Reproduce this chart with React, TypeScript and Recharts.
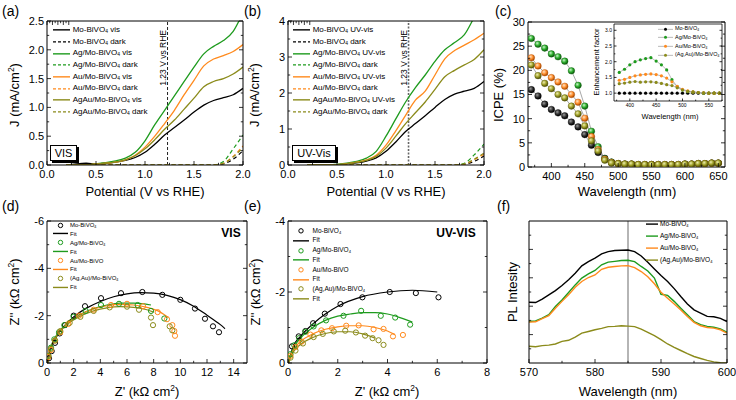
import React from "react";
import {
  LineChart,
  Line,
  ComposedChart,
  Scatter,
  XAxis,
  YAxis,
  ReferenceLine,
  Legend,
} from "recharts";

const FONT = '"Liberation Sans", Arial, Helvetica, sans-serif';
const BLACK = "#000000";
const GREEN = "#1e9b1e";
const ORANGE = "#ff8a1d";
const OLIVE = "#8b8b1b";
const GRAY = "#a8a8a8";
const COLORS = [BLACK, GREEN, ORANGE, OLIVE];

// ---- (a) / (b) linear sweep voltammetry
const potential = [0.2, 0.3, 0.4, 0.5, 0.6, 0.7, 0.8, 0.9, 1.0, 1.1, 1.2, 1.3, 1.4, 1.5, 1.6, 1.7, 1.8, 1.9, 2.0];
const moVis = [0, 0.02, 0.03, 0.02, 0.03, 0.05, 0.08, 0.13, 0.22, 0.36, 0.52, 0.65, 0.78, 0.92, 1.04, 1.12, 1.17, 1.22, 1.33];
const agVis = [0, 0, 0, 0.02, 0.04, 0.07, 0.12, 0.22, 0.42, 0.7, 0.95, 1.2, 1.45, 1.7, 1.93, 2.06, 2.16, 2.32, 2.65];
const auVis = [0, 0, 0, 0.02, 0.03, 0.05, 0.09, 0.17, 0.31, 0.5, 0.72, 0.95, 1.22, 1.47, 1.72, 1.84, 1.9, 1.97, 2.09];
const agauVis = [0, 0, 0, 0.02, 0.03, 0.05, 0.09, 0.16, 0.28, 0.44, 0.62, 0.78, 0.97, 1.16, 1.36, 1.45, 1.5, 1.58, 1.7];
const moDarkA = [0, 0, 0, 0, 0, 0, 0, 0, 0, 0, 0, 0, 0, 0, 0, 0, 0.02, 0.1, 0.25];
const agDarkA = [0, 0, 0, 0, 0, 0, 0, 0, 0, 0, 0, 0, 0, 0, 0, 0, 0.06, 0.28, 0.52];
const auDarkA = [0, 0, 0, 0, 0, 0, 0, 0, 0, 0, 0, 0, 0, 0, 0, 0, 0.03, 0.15, 0.33];
const agauDarkA = [0, 0, 0, 0, 0, 0, 0, 0, 0, 0, 0, 0, 0, 0, 0, 0, 0.03, 0.14, 0.3];

const moUV = [0, 0, 0, 0.01, 0.03, 0.06, 0.11, 0.2, 0.38, 0.64, 0.93, 1.15, 1.37, 1.6, 1.82, 1.97, 2.05, 2.13, 2.32];
const agUV = [0, 0, 0, 0.02, 0.05, 0.1, 0.19, 0.38, 0.8, 1.28, 1.75, 2.15, 2.5, 2.88, 3.2, 3.4, 3.62, 4.1, 4.6];
const auUV = [0, 0, 0, 0.01, 0.04, 0.08, 0.14, 0.27, 0.55, 0.95, 1.38, 1.8, 2.05, 2.5, 2.95, 3.18, 3.33, 3.48, 3.66];
const agauUV = [0, 0, 0, 0.01, 0.03, 0.07, 0.13, 0.24, 0.47, 0.8, 1.15, 1.45, 1.75, 2.1, 2.45, 2.63, 2.78, 2.93, 3.2];
const moDarkB = [0, 0, 0, 0, 0, 0, 0, 0, 0, 0, 0, 0, 0, 0, 0, 0, 0.02, 0.1, 0.25];
const agDarkB = [0, 0, 0, 0, 0, 0, 0, 0, 0, 0, 0, 0, 0, 0, 0, 0, 0.05, 0.28, 0.58];
const auDarkB = [0, 0, 0, 0, 0, 0, 0, 0, 0, 0, 0, 0, 0, 0, 0, 0, 0.02, 0.15, 0.3];
const agauDarkB = [0, 0, 0, 0, 0, 0, 0, 0, 0, 0, 0, 0, 0, 0, 0, 0, 0.03, 0.16, 0.33];

// ---- (c) ICPE + enhancement factor inset
const wavelengthC = [370, 380, 390, 400, 410, 420, 430, 440, 450, 460, 470, 480, 490, 500, 510, 520, 530, 540, 550, 560, 570, 580, 590, 600, 610, 620, 630, 640, 650];
const icpeMo = [16.0, 14.7, 13.0, 11.9, 11.2, 10.6, 9.3, 8.3, 6.7, 4.5, 3.0, 1.8, 1.0, 0.7, 0.6, 0.6, 0.5, 0.5, 0.5, 0.5, 0.5, 0.5, 0.5, 0.6, 0.6, 0.7, 0.7, 0.8, 0.8];
const icpeAg = [26.6, 25.4, 24.6, 23.4, 22.8, 21.9, 19.9, 16.9, 12.6, 7.4, 4.2, 1.7, 1.0, 0.7, 0.6, 0.6, 0.5, 0.5, 0.5, 0.5, 0.5, 0.5, 0.5, 0.6, 0.6, 0.7, 0.7, 0.8, 0.8];
const icpeAu = [22.6, 20.9, 19.5, 18.5, 17.6, 16.7, 15.0, 13.4, 10.1, 6.3, 3.6, 1.6, 0.9, 0.7, 0.6, 0.6, 0.5, 0.5, 0.5, 0.5, 0.5, 0.5, 0.5, 0.6, 0.6, 0.7, 0.7, 0.8, 0.8];
const icpeAgAu = [21.1, 18.9, 17.3, 16.2, 15.0, 14.3, 12.6, 11.0, 8.5, 5.4, 3.3, 1.4, 0.8, 0.7, 0.6, 0.6, 0.5, 0.5, 0.5, 0.5, 0.5, 0.5, 0.5, 0.6, 0.6, 0.7, 0.7, 0.8, 0.8];

const wavelengthInset = [380, 390, 400, 410, 420, 430, 440, 450, 460, 470, 480, 490, 500, 510, 520, 530, 540, 550, 560, 570];
const efMo = [1, 1, 1, 1, 1, 1, 1, 1, 1, 1, 1, 1, 1, 1, 1, 1, 1, 1, 1, 1];
const efAg = [1.66, 1.76, 1.9, 2.0, 2.06, 2.1, 2.13, 2.02, 1.9, 1.74, 1.43, 1.21, 1.1, 1.05, 1.03, 1.02, 1.0, 1.0, 1.0, 1.0];
const efAu = [1.41, 1.44, 1.5, 1.55, 1.58, 1.6, 1.61, 1.59, 1.55, 1.48, 1.36, 1.22, 1.12, 1.07, 1.04, 1.02, 1.01, 1.0, 1.0, 1.0];
const efAgAu = [1.3, 1.32, 1.35, 1.37, 1.35, 1.36, 1.36, 1.34, 1.31, 1.27, 1.24, 1.17, 1.1, 1.06, 1.04, 1.02, 1.01, 1.0, 1.0, 1.0];

// ---- (d) / (e) Nyquist plots [Z', Z'']
const moCircD = [[0.15, -0.2], [0.35, -0.5], [0.6, -0.85], [0.95, -1.25], [1.35, -1.6], [2.0, -2.0], [2.85, -2.4], [4.05, -2.74], [5.55, -2.95], [7.15, -3.0], [8.65, -2.88], [10.0, -2.67], [11.1, -2.3], [11.85, -1.87], [12.45, -1.55], [12.9, -1.3]];
const moFitD = [[0.05, 0], [0.15, -0.35], [0.35, -0.7], [0.7, -1.1], [1.2, -1.5], [2, -1.95], [3, -2.33], [4, -2.6], [5, -2.8], [6, -2.92], [7, -2.97], [8, -2.95], [9, -2.86], [10, -2.68], [11, -2.4], [12, -2.02], [13, -1.62], [13.35, -1.45]];
const agCircD = [[0.1, -0.3], [0.3, -0.65], [0.55, -1.0], [0.9, -1.3], [1.3, -1.6], [2.0, -1.95], [2.9, -2.2], [4.05, -2.45], [5.4, -2.5], [6.8, -2.45], [7.8, -2.2], [8.8, -1.88]];
const agFitD = [[0.05, 0], [0.15, -0.4], [0.4, -0.85], [0.8, -1.25], [1.5, -1.68], [2.5, -2.05], [3.5, -2.3], [4.5, -2.45], [5.5, -2.53], [6.5, -2.53], [7.3, -2.5], [7.8, -2.45]];
const auCircD = [[0.1, -0.25], [0.3, -0.55], [0.6, -0.95], [1.0, -1.3], [1.6, -1.65], [2.4, -2.0], [3.5, -2.25], [4.8, -2.45], [6.0, -2.5], [7.2, -2.4], [8.3, -2.15], [9.0, -1.85], [9.4, -1.6], [9.55, -1.35], [9.6, -1.15]];
const auFitD = [[0.05, 0], [0.15, -0.35], [0.4, -0.8], [0.8, -1.2], [1.5, -1.65], [2.5, -2.05], [3.5, -2.28], [4.5, -2.42], [5.5, -2.48], [6.5, -2.45], [7.5, -2.35], [8.5, -2.15], [9.1, -1.92]];
const agauCircD = [[0.1, -0.3], [0.3, -0.6], [0.6, -0.95], [1.0, -1.35], [1.7, -1.7], [2.5, -1.95], [3.5, -2.2], [4.7, -2.35], [6.0, -2.38], [6.9, -2.25], [7.8, -1.92], [7.95, -1.6], [9.2, -1.55], [9.4, -1.38]];
const agauFitD = [[0.05, 0], [0.15, -0.38], [0.4, -0.8], [0.8, -1.2], [1.5, -1.62], [2.5, -1.98], [3.5, -2.2], [4.5, -2.33], [5.5, -2.38], [6.5, -2.35], [7.5, -2.25], [8.0, -2.15]];

const moCircE = [[0.16, -0.47], [0.43, -0.75], [0.7, -0.9], [1.01, -1.12], [1.48, -1.39], [2.11, -1.66], [2.99, -1.85], [4.09, -2.0], [5.14, -1.97], [6.05, -1.85]];
const moFitE = [[0.02, 0], [0.2, -0.45], [0.5, -0.75], [1, -1.1], [1.5, -1.38], [2, -1.6], [3, -1.87], [4, -2.0], [5, -2.05], [6, -2.0]];
const agCircE = [[0.1, -0.25], [0.25, -0.5], [0.45, -0.7], [0.7, -0.88], [1.03, -1.03], [1.53, -1.2], [2.23, -1.33], [2.94, -1.47], [3.73, -1.33], [4.31, -1.28], [4.91, -1.08]];
const agFitE = [[0.02, 0], [0.2, -0.4], [0.5, -0.7], [1, -1.0], [1.5, -1.2], [2, -1.32], [2.5, -1.38], [3, -1.42], [3.5, -1.42], [4, -1.38], [4.5, -1.28], [5, -1.15]];
const auCircE = [[0.1, -0.2], [0.3, -0.45], [0.55, -0.6], [0.9, -0.8], [1.34, -0.92], [1.77, -0.98], [2.34, -1.05], [2.84, -1.06], [3.44, -0.95], [3.84, -0.96], [4.22, -0.75], [4.62, -0.79]];
const auFitE = [[0.02, 0], [0.2, -0.35], [0.5, -0.6], [1, -0.82], [1.5, -0.95], [2, -1.02], [2.5, -1.05], [3, -1.05], [3.5, -1.0], [4, -0.9], [4.3, -0.8]];
const agauCircE = [[0.1, -0.15], [0.3, -0.35], [0.6, -0.55], [1.03, -0.73], [1.4, -0.82], [1.84, -0.89], [2.3, -0.91], [2.73, -0.86], [3.1, -0.77], [3.4, -0.7], [3.64, -0.64], [3.84, -0.51]];
const agauFitE = [[0.02, 0], [0.2, -0.3], [0.5, -0.52], [1, -0.72], [1.5, -0.83], [2, -0.88], [2.5, -0.88], [3, -0.82], [3.5, -0.7]];

// ---- (f) photoluminescence
const plWave = [570, 571, 572, 573, 574, 575, 576, 577, 578, 579, 580, 581, 582, 583, 584, 585, 586, 587, 588, 589, 590, 591, 592, 593, 594, 595, 596, 597, 598, 599, 600];
const plMo = [2.14, 2.13, 2.25, 2.4, 2.55, 2.73, 2.93, 3.16, 3.42, 3.57, 3.69, 3.84, 3.92, 3.96, 3.97, 3.98, 3.92, 3.77, 3.55, 3.31, 3.08, 2.87, 2.62, 2.34, 2.08, 1.87, 1.76, 1.64, 1.63, 1.57, 1.46];
const plAg = [1.46, 1.48, 1.58, 1.7, 1.99, 2.22, 2.48, 2.75, 2.99, 3.14, 3.26, 3.46, 3.55, 3.58, 3.61, 3.62, 3.57, 3.4, 3.24, 2.99, 2.42, 2.38, 2.17, 1.93, 1.7, 1.46, 1.35, 1.29, 1.26, 1.2, 1.08];
const plAu = [1.44, 1.45, 1.56, 1.67, 1.93, 2.17, 2.4, 2.67, 2.87, 3.01, 3.1, 3.3, 3.37, 3.4, 3.42, 3.43, 3.36, 3.22, 3.04, 2.79, 2.49, 2.28, 2.08, 1.87, 1.64, 1.43, 1.31, 1.25, 1.23, 1.17, 1.05];
const plAgAu = [0.59, 0.57, 0.61, 0.63, 0.67, 0.76, 0.8, 0.91, 1.05, 1.11, 1.17, 1.22, 1.28, 1.29, 1.31, 1.3, 1.28, 1.19, 1.08, 0.96, 0.82, 0.67, 0.55, 0.44, 0.33, 0.23, 0.16, 0.09, 0.04, 0.01, 0.0];

const namesLSV = ["Mo-BiVO", "Ag/Mo-BiVO", "Au/Mo-BiVO", "AgAu/Mo-BiVO"];
const namesOther = ["Mo-BiVO", "Ag/Mo-BiVO", "Au/Mo-BiVO", "(Ag,Au)/Mo-BiVO"];

const tableA = potential.map((v, i) => ({
  v, mo: moVis[i], ag: agVis[i], au: auVis[i], agau: agauVis[i],
  moD: moDarkA[i], agD: agDarkA[i], auD: auDarkA[i], agauD: agauDarkA[i],
}));
const tableB = potential.map((v, i) => ({
  v, mo: moUV[i], ag: agUV[i], au: auUV[i], agau: agauUV[i],
  moD: moDarkB[i], agD: agDarkB[i], auD: auDarkB[i], agauD: agauDarkB[i],
}));
const tableC = wavelengthC.map((w, i) => ({ w, mo: icpeMo[i], ag: icpeAg[i], au: icpeAu[i], agau: icpeAgAu[i] }));
const tableInset = wavelengthInset.map((w, i) => ({ w, mo: efMo[i], ag: efAg[i], au: efAu[i], agau: efAgAu[i] }));
const tablePL = plWave.map((w, i) => ({ w, mo: plMo[i], ag: plAg[i], au: plAu[i], agau: plAgAu[i] }));
const pts = (a: number[][]) => a.map(([x, y]) => ({ x, y }));

const KEYS = ["mo", "ag", "au", "agau"];
const nyqD = [
  { circ: moCircD, fit: moFitD },
  { circ: agCircD, fit: agFitD },
  { circ: auCircD, fit: auFitD },
  { circ: agauCircD, fit: agauFitD },
];
const nyqE = [
  { circ: moCircE, fit: moFitE },
  { circ: agCircE, fit: agFitE },
  { circ: auCircE, fit: auFitE },
  { circ: agauCircE, fit: agauFitE },
];

const Sub = ({ c }: { c: string }) => (
  <sub style={{ fontSize: "0.62em", verticalAlign: "-0.3em", lineHeight: 0 }}>{c}</sub>
);
const Sup = ({ c }: { c: string }) => (
  <sup style={{ fontSize: "0.65em", verticalAlign: "0.55em", lineHeight: 0 }}>{c}</sup>
);
const bv = (name: string, suffix = "", sub = true) => (
  <>
    {name}
    {sub && <Sub c="4" />}
    {suffix}
  </>
);

type Side = "bottom" | "left" | "top" | "right";
const near = (a: number, b: number) => Math.abs(a - b) < 1e-6;

// draws inward Origin-style ticks (major/minor) and the labels of the majors
function tickFn(side: Side, majors: number[], fmt: ((v: number) => string) | null, fs = 11, len = 4, gap = 3) {
  return (p: any) => {
    const x = Number(p.x);
    const y = Number(p.y);
    const v = p.payload.value as number;
    const major = majors.some((m) => near(m, v));
    const l = major ? len : len * 0.55;
    let x2 = x;
    let y2 = y;
    if (side === "bottom") y2 = y - l;
    if (side === "top") y2 = y + l;
    if (side === "left") x2 = x + l;
    if (side === "right") x2 = x - l;
    return (
      <g>
        <line x1={x} y1={y} x2={x2} y2={y2} stroke="#000" strokeWidth={0.8} />
        {major && fmt && side === "bottom" && (
          <text x={x} y={y + gap + fs * 0.72} textAnchor="middle" fontSize={fs} fontFamily={FONT} fill="#000">
            {fmt(v)}
          </text>
        )}
        {major && fmt && side === "left" && (
          <text x={x - gap} y={y + fs * 0.36} textAnchor="end" fontSize={fs} fontFamily={FONT} fill="#000">
            {fmt(v)}
          </text>
        )}
      </g>
    );
  };
}

type FrameOpts = {
  xKey: string;
  yKey?: string;
  xDomain: [number, number];
  xTicks: number[];
  xMajor: number[];
  xFmt: ((v: number) => string) | null;
  yDomain: [number, number];
  yTicks: number[];
  yMajor: number[];
  yFmt: ((v: number) => string) | null;
  yWidth: number;
  xHeight: number;
  reversed?: boolean;
  fs?: number;
  len?: number;
  xGap?: number;
  yGap?: number;
  sw?: number;
};

function frame(o: FrameOpts) {
  const fs = o.fs ?? 11;
  const len = o.len ?? 4;
  const line = { stroke: "#000", strokeWidth: o.sw ?? 1 };
  const common = { type: "number" as const, allowDataOverflow: true, interval: 0 as const, tickSize: 0, tickMargin: 0, tickLine: false, axisLine: line };
  return [
    <XAxis key="xb" {...common} dataKey={o.xKey} domain={o.xDomain} ticks={o.xTicks} height={o.xHeight}
      tick={tickFn("bottom", o.xMajor, o.xFmt, fs, len, o.xGap ?? 5)} />,
    <XAxis key="xt" {...common} xAxisId="t" orientation="top" domain={o.xDomain} ticks={o.xTicks} height={1}
      tick={tickFn("top", o.xMajor, null, fs, len)} />,
    <YAxis key="yl" {...common} dataKey={o.yKey} domain={o.yDomain} ticks={o.yTicks} width={o.yWidth} reversed={o.reversed}
      tick={tickFn("left", o.yMajor, o.yFmt, fs, len, o.yGap ?? 3)} />,
    <YAxis key="yr" {...common} yAxisId="r" orientation="right" domain={o.yDomain} ticks={o.yTicks} width={1} reversed={o.reversed}
      tick={tickFn("right", o.yMajor, null, fs, len)} />,
  ];
}

type Row = { text: React.ReactNode; color: string; kind: "line" | "dash" | "open" | "linedot" };

function LegendBox({ rows, fs, rowH, iconW, gap }: { rows: Row[]; fs: number; rowH: number; iconW: number; gap: number }) {
  return (
    <div style={{ fontFamily: FONT, fontSize: fs, color: "#000" }}>
      {rows.map((r, i) => (
        <div key={i} style={{ display: "flex", alignItems: "center", height: rowH, whiteSpace: "nowrap", lineHeight: 1 }}>
          <svg width={iconW} height={rowH} style={{ display: "block", flex: "none" }}>
            {r.kind !== "open" && (
              <line x1={0} x2={iconW} y1={rowH / 2} y2={rowH / 2}
                stroke={r.kind === "linedot" ? GRAY : r.color}
                strokeWidth={r.kind === "linedot" ? 0.8 : 1.4}
                strokeDasharray={r.kind === "dash" ? "3 2" : undefined} />
            )}
            {r.kind === "open" && <circle cx={iconW / 2} cy={rowH / 2} r={2.2} fill="none" stroke={r.color} strokeWidth={1} />}
            {r.kind === "linedot" && <circle cx={iconW / 2} cy={rowH / 2} r={1.5} fill={r.color} />}
          </svg>
          <span style={{ marginLeft: gap }}>{r.text}</span>
        </div>
      ))}
    </div>
  );
}

function legendAt(left: number, top: number, box: React.ReactNode) {
  return (
    <Legend layout="vertical" align="center" verticalAlign="middle" content={() => box}
      wrapperStyle={{ left, top, width: 160, height: "auto" }} />
  );
}

const lsvRows = (suffix: string): Row[] =>
  namesLSV.flatMap((n, i) => [
    { text: bv(n, " " + suffix), color: COLORS[i], kind: "line" as const },
    { text: bv(n, " dark"), color: COLORS[i], kind: "dash" as const },
  ]);

const nyqRows: Row[] = namesOther.flatMap((n, i) => [
  { text: bv(n, "", i !== 2), color: COLORS[i], kind: "open" as const },
  { text: "Fit", color: COLORS[i], kind: "line" as const },
]);

const dotRows: Row[] = namesOther.map((n, i) => ({ text: bv(n), color: COLORS[i], kind: "linedot" as const }));
const plRows: Row[] = namesOther.map((n, i) => ({ text: bv(n), color: COLORS[i], kind: "line" as const }));

function VText(props: { viewBox?: any; text: string; dx: number; top: number; fs: number }) {
  const vb = props.viewBox || { x: 0, y: 0 };
  const x = vb.x + props.dx;
  const y = vb.y + props.top;
  return (
    <text x={x} y={y} transform={`rotate(-90 ${x} ${y})`} textAnchor="end" fontSize={props.fs} fontFamily={FONT} fill="#000">
      {props.text}
    </text>
  );
}

const f1 = (v: number) => v.toFixed(1);
const f0 = (v: number) => String(v);

function LsvPanel({ data, width, yMax, yTicks, yMajor, yFmt, yWidth, right, rows, refStyle, legendLeft }: any) {
  return (
    <LineChart width={width} height={200} data={data} margin={{ top: 20, right, bottom: 0, left: 0 }}>
      {frame({
        xKey: "v", xDomain: [0, 2], xTicks: [0, 0.25, 0.5, 0.75, 1, 1.25, 1.5, 1.75, 2], xMajor: [0, 0.5, 1, 1.5, 2], xFmt: f1,
        yDomain: [0, yMax], yTicks, yMajor, yFmt, yWidth, xHeight: 35,
      })}
      <ReferenceLine x={1.23} {...refStyle}
        label={(p: any) => <VText viewBox={p.viewBox} text="1.23 V vs RHE" dx={-2} top={9} fs={8.5} />} />
      {KEYS.map((k, i) => (
        <Line key={k + "D"} dataKey={k + "D"} type="monotone" stroke={COLORS[i]} strokeWidth={1.2} strokeDasharray="4 3" dot={false} isAnimationActive={false} />
      ))}
      {KEYS.map((k, i) => (
        <Line key={k} dataKey={k} type="monotone" stroke={COLORS[i]} strokeWidth={1.3} dot={false} isAnimationActive={false} />
      ))}
      {legendAt(legendLeft, 24.2, <LegendBox rows={rows} fs={8} rowH={11.7} iconW={17.5} gap={2.5} />)}
    </LineChart>
  );
}

const BALLS = [
  { id: "k", c: "#333333", d: "#000000", h: "#9a9a9a" },
  { id: "g", c: "#2fb02f", d: "#0d5e0d", h: "#c8f5c8" },
  { id: "o", c: "#ff9030", d: "#b04d00", h: "#ffe2c2" },
  { id: "y", c: "#a3a32a", d: "#55550a", h: "#eeeeb0" },
];

function IcpePanel() {
  return (
    <LineChart width={246} height={200} data={tableC} margin={{ top: 21, right: 10, bottom: 0, left: 0 }}>
      <defs>
        {BALLS.map((b) => (
          <radialGradient key={b.id} id={`ball-${b.id}`} cx="38%" cy="35%" r="62%">
            <stop offset="0%" stopColor={b.h} />
            <stop offset="55%" stopColor={b.c} />
            <stop offset="100%" stopColor={b.d} />
          </radialGradient>
        ))}
      </defs>
      {frame({
        xKey: "w", xDomain: [365, 660], xTicks: [375, 400, 425, 450, 475, 500, 525, 550, 575, 600, 625, 650],
        xMajor: [400, 450, 500, 550, 600, 650], xFmt: f0,
        yDomain: [0, 30], yTicks: [0, 2.5, 5, 7.5, 10, 12.5, 15, 17.5, 20, 22.5, 25, 27.5, 30], yMajor: [0, 5, 10, 15, 20, 25, 30],
        yFmt: f0, yWidth: 38, xHeight: 33,
      })}
      {KEYS.map((k, i) => (
        <Line key={k} dataKey={k} type="linear" stroke={GRAY} strokeWidth={1} isAnimationActive={false}
          dot={(p: any) => (
            <circle key={`${k}-${p.index}`} cx={p.cx} cy={p.cy} r={3.3} fill={`url(#ball-${BALLS[i].id})`} stroke={BALLS[i].d} strokeWidth={0.4} />
          )} />
      ))}
    </LineChart>
  );
}

function InsetPanel() {
  return (
    <LineChart width={140} height={100} data={tableInset} margin={{ top: 8, right: 7, bottom: 0, left: 0 }}>
      {frame({
        xKey: "w", xDomain: [370, 575], xTicks: [375, 400, 425, 450, 475, 500, 525, 550, 575], xMajor: [400, 450, 500, 550], xFmt: f0,
        yDomain: [0.75, 3.2], yTicks: [1, 1.25, 1.5, 1.75, 2, 2.25, 2.5, 2.75, 3], yMajor: [1, 1.5, 2, 2.5, 3], yFmt: f1,
        yWidth: 24, xHeight: 14, fs: 5, len: 2.5, xGap: 2, yGap: 2, sw: 0.8,
      })}
      {KEYS.map((k, i) => (
        <Line key={k} dataKey={k} type="linear" stroke={GRAY} strokeWidth={0.8} isAnimationActive={false}
          dot={(p: any) => <circle key={`${k}-${p.index}`} cx={p.cx} cy={p.cy} r={1.6} fill={COLORS[i]} />} />
      ))}
      {legendAt(68, 9.6, <LegendBox rows={dotRows} fs={5.5} rowH={8.7} iconW={15} gap={2} />)}
    </LineChart>
  );
}

function NyqPanel({ series, width, xMax, xTicks, xMajor, yMin, yTicks, yMajor, yWidth, right, legend }: any) {
  return (
    <ComposedChart width={width} height={200} margin={{ top: 20, right, bottom: 0, left: 0 }}>
      {frame({
        xKey: "x", yKey: "y", xDomain: [0, xMax], xTicks, xMajor, xFmt: f0,
        yDomain: [yMin, 0], yTicks, yMajor, yFmt: f0, yWidth, xHeight: 37, reversed: true,
      })}
      {series.map((s: any, i: number) => (
        <Line key={"fit" + i} data={pts(s.fit)} dataKey="y" type="monotone" stroke={COLORS[i]} strokeWidth={1.2} dot={false} isAnimationActive={false} />
      ))}
      {series.map((s: any, i: number) => (
        <Scatter key={"c" + i} data={pts(s.circ)} isAnimationActive={false}
          shape={(p: any) => <circle cx={p.cx} cy={p.cy} r={2.6} fill="none" stroke={COLORS[i]} strokeWidth={1} />} />
      ))}
      {legend}
    </ComposedChart>
  );
}

function PlPanel() {
  return (
    <LineChart width={246} height={200} data={tablePL} margin={{ top: 20, right: 8, bottom: 0, left: 0 }}>
      {frame({
        xKey: "w", xDomain: [570, 600], xTicks: [570, 575, 580, 585, 590, 595, 600], xMajor: [570, 580, 590, 600], xFmt: f0,
        yDomain: [0, 5], yTicks: [0.5, 1, 1.5, 2, 2.5, 3, 3.5, 4, 4.5], yMajor: [1, 2, 3, 4], yFmt: null,
        yWidth: 39, xHeight: 37,
      })}
      <ReferenceLine x={585} stroke="#b5b5b5" strokeWidth={2} />
      {KEYS.map((k, i) => (
        <Line key={k} dataKey={k} type="linear" stroke={COLORS[i]} strokeWidth={1.4} dot={false} isAnimationActive={false} />
      ))}
      {legendAt(155.7, 17.9, <LegendBox rows={plRows} fs={6.5} rowH={12.2} iconW={12.6} gap={1.7} />)}
    </LineChart>
  );
}

function Title({ x, y, rot, size = 13, bold, children }: any) {
  return (
    <div style={{
      position: "absolute", left: x, top: y, transform: `translate(-50%, -50%)${rot ? " rotate(-90deg)" : ""}`,
      whiteSpace: "nowrap", fontSize: size, fontFamily: FONT, fontWeight: bold ? 700 : 400, lineHeight: 1, color: "#000",
    }}>
      {children}
    </div>
  );
}

function PanelTag({ x, y, t }: { x: number; y: number; t: string }) {
  return <div style={{ position: "absolute", left: x, top: y, fontFamily: FONT, fontSize: 14, lineHeight: 1 }}>{t}</div>;
}

function Boxed({ x, y, w, children }: any) {
  return (
    <div style={{
      position: "absolute", left: x, top: y, width: w, height: 14, border: "1px solid #000", boxShadow: "2px 2px 0 #000",
      background: "#fff", fontFamily: FONT, fontSize: 11, lineHeight: "14px", textAlign: "center",
    }}>
      {children}
    </div>
  );
}

const at = (left: number, top: number, el: React.ReactNode) => (
  <div style={{ position: "absolute", left, top }}>{el}</div>
);

export default function App() {
  const zUnit = (p: string) => (
    <>
      {p} (kΩ cm<Sup c="2" />)
    </>
  );
  return (
    <div style={{ position: "absolute", left: 0, top: 0, width: 736, height: 400, background: "#fff", overflow: "hidden" }}>
      {at(0, 0, (
        <LsvPanel data={tableA} width={252} yMax={2.5} yTicks={[0, 0.25, 0.5, 0.75, 1, 1.25, 1.5, 1.75, 2, 2.25, 2.5]}
          yMajor={[0, 0.5, 1, 1.5, 2, 2.5]} yFmt={f1} yWidth={47} right={8} rows={lsvRows("vis")}
          refStyle={{ stroke: "#222", strokeWidth: 1, strokeDasharray: "3 2" }} legendLeft={52.7} />
      ))}
      {at(245, 0, (
        <LsvPanel data={tableB} width={252} yMax={4} yTicks={[0, 0.5, 1, 1.5, 2, 2.5, 3, 3.5, 4]}
          yMajor={[0, 1, 2, 3, 4]} yFmt={f0} yWidth={43} right={12} rows={lsvRows("UV-vis")}
          refStyle={{ stroke: "#666", strokeWidth: 1.6, strokeDasharray: "2 1.5" }} legendLeft={47.7} />
      ))}
      {at(490, 0, <IcpePanel />)}
      {at(590, 15, <InsetPanel />)}
      {at(0, 200, (
        <NyqPanel series={nyqD} width={252} xMax={15} xTicks={[0, 1, 2, 3, 4, 5, 6, 7, 8, 9, 10, 11, 12, 13, 14]}
          xMajor={[0, 2, 4, 6, 8, 10, 12, 14]} yMin={-6} yTicks={[-6, -5, -4, -3, -2, -1, 0]} yMajor={[-6, -4, -2, 0]}
          yWidth={47} right={4}
          legend={legendAt(53, 20.5, <LegendBox rows={nyqRows} fs={6} rowH={8.9} iconW={15} gap={2} />)} />
      ))}
      {at(245, 200, (
        <NyqPanel series={nyqE} width={252} xMax={8} xTicks={[0, 1, 2, 3, 4, 5, 6, 7, 8]} xMajor={[0, 2, 4, 6, 8]}
          yMin={-4} yTicks={[-4, -3, -2, -1, 0]} yMajor={[-4, -2, 0]} yWidth={43} right={9}
          legend={legendAt(48, 26.2, <LegendBox rows={nyqRows} fs={6.5} rowH={9.7} iconW={16} gap={3.5} />)} />
      ))}
      {at(490, 200, <PlPanel />)}

      <PanelTag x={2} y={4} t="(a)" />
      <PanelTag x={244} y={4} t="(b)" />
      <PanelTag x={495} y={4} t="(c)" />
      <PanelTag x={2} y={199} t="(d)" />
      <PanelTag x={244} y={199} t="(e)" />
      <PanelTag x={497} y={199} t="(f)" />

      <Title x={14} y={95} rot>J (mA/cm<Sup c="2" />)</Title>
      <Title x={145} y={191}>Potential (V vs RHE)</Title>
      <Title x={254} y={95} rot>J (mA/cm<Sup c="2" />)</Title>
      <Title x={386} y={191}>Potential (V vs RHE)</Title>
      <Title x={498} y={95} rot>ICPE (%)</Title>
      <Title x={627} y={191}>Wavelength (nm)</Title>
      <Title x={597} y={62} rot size={7.5}>Enhancement factor</Title>
      <Title x={670} y={117} size={7.5}>Wavelength (nm)</Title>
      <Title x={14} y={292} rot>{zUnit("Z''")}</Title>
      <Title x={147} y={391}>{zUnit("Z'")}</Title>
      <Title x={255} y={292} rot>{zUnit("Z''")}</Title>
      <Title x={387} y={391}>{zUnit("Z'")}</Title>
      <Title x={512} y={292} rot>PL Intesity</Title>
      <Title x={628} y={391}>Wavelength (nm)</Title>
      <Title x={231} y={233} size={12} bold>VIS</Title>
      <Title x={456} y={233} size={12} bold>UV-VIS</Title>

      <Boxed x={50} y={145} w={25}>VIS</Boxed>
      <Boxed x={292} y={145} w={42}>UV-Vis</Boxed>
    </div>
  );
}
